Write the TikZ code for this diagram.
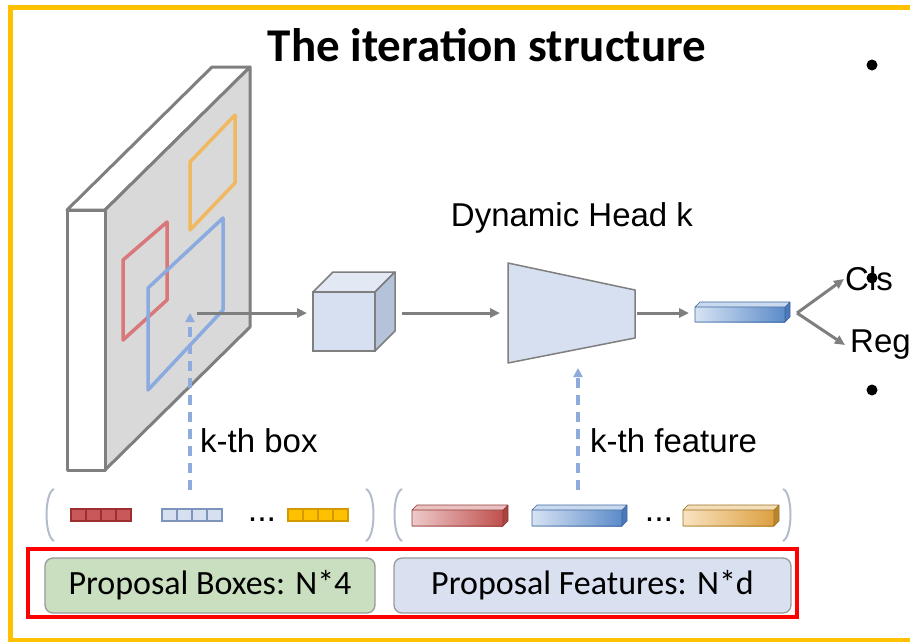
\documentclass[tikz,border=0pt]{standalone}
\usepackage{fontspec}
\setmainfont{Liberation Sans}
\newfontfamily\calib{Carlito}
\usetikzlibrary{arrows.meta,calc}

\definecolor{frameyellow}{HTML}{FFC000}
\definecolor{edgegray}{HTML}{7F7F7F}
\definecolor{slabgray}{HTML}{D9D9D9}
\definecolor{boxred}{HTML}{D9787A}
\definecolor{boxorange}{HTML}{F0B860}
\definecolor{boxblue}{HTML}{8AAAE0}
\definecolor{dashblue}{HTML}{8FAADC}
\definecolor{cubefront}{HTML}{D6E0F0}
\definecolor{cubetop}{HTML}{E2E9F5}
\definecolor{cubeside}{HTML}{B4C2DA}
\definecolor{bracketgray}{HTML}{B4BCCC}
\definecolor{greenfill}{HTML}{C9DFC0}
\definecolor{bluefill}{HTML}{D9E1F0}
% feature vector shades
\definecolor{vbluelo}{HTML}{D7E3F3}
\definecolor{vbluehi}{HTML}{5B8BC9}
\definecolor{vblueside}{HTML}{4A78B8}
\definecolor{vredlo}{HTML}{EDCACA}
\definecolor{vredhi}{HTML}{C0504D}
\definecolor{vredside}{HTML}{A84440}
\definecolor{vorglo}{HTML}{F8E3C0}
\definecolor{vorghi}{HTML}{DDA040}
\definecolor{vorgside}{HTML}{B8862B}
% box vector fills
\definecolor{cellred}{HTML}{C9585A}
\definecolor{cellredline}{HTML}{9E2F30}
\definecolor{cellblueline}{HTML}{7D95BD}
\definecolor{cellorgline}{HTML}{D39A00}

% a 3-d feature vector: front face from (#1,#3) to (#2,#4), shaded #5 -> #6, side #7
\newcommand\featbar[7]{%
  \shade[left color=#5, right color=#6] (#1,#3) rectangle (#2,#4);
  \fill[#5!60!#6!60!white] (#1,#3) -- ++(5,-5) -- ($(#2,#3)+(5,-5)$) -- (#2,#3) -- cycle;
  \fill[#7] (#2,#3) -- ++(5,-5) -- ($(#2,#4)+(5,-5)$) -- (#2,#4) -- cycle;
  \draw[#7!85!black, line width=0.6pt, line join=round] (#1,#3) rectangle (#2,#4)
     (#1,#3) -- ++(5,-5) -- ($(#2,#3)+(5,-5)$) -- ($(#2,#4)+(5,-5)$) -- (#2,#4)
     (#2,#3) -- ++(5,-5);
}
% a 4-cell box vector starting at (#1,#2)
\newcommand\cellrow[4]{%
  \draw[fill=#3, draw=#4, line width=1.2pt] (#1,#2) rectangle ++(60,12);
  \foreach \k in {1,2,3} \draw[#4, line width=1.2pt] ($(#1,#2)+(15*\k,0)$) -- ++(0,12);
}

\tikzset{
  graylink/.style={draw=edgegray, line width=3pt, -{Triangle[length=10pt,width=9pt]}},
  dashlink/.style={draw=dashblue, line width=3.2pt, dash pattern=on 10pt off 7pt,
                   -{Triangle[length=9pt,width=9pt]}},
  lbl/.style={font=\fontsize{33}{38}\selectfont, inner sep=0pt, anchor=west},
  dotsym/.style={font=\fontsize{34}{38}\selectfont, inner sep=0pt, anchor=base},
  panel/.style={rounded corners=8pt, draw=edgegray!80, line width=1.3pt,
                minimum height=55pt, inner sep=0pt,
                font=\calib\fontsize{34}{40}\selectfont},
  bracket/.style={draw=bracketgray, line width=2pt},
  slabline/.style={draw=edgegray, line width=3pt, line join=round},
  roibox/.style={line width=3.5pt, line join=round},
}

\begin{document}
\begin{tikzpicture}[x=1pt, y=-1pt]
\useasboundingbox (0,0) rectangle (910,641);
\clip (0,0) rectangle (910,641);
\fill[white] (0,0) rectangle (910,641);

% outer frame
\draw[frameyellow, line width=5pt] (930,7.5) -- (10.5,7.5) -- (10.5,640) -- (930,640);

% title
\node[font=\calib\bfseries\fontsize{47}{54}\selectfont, inner sep=0pt] (title) at (487,45) {The iteration structure};

% bullets of the slide
\foreach \yy in {65,390} \fill (872,\yy) circle (5.5pt);

% feature map slab
\coordinate (fa) at (67,210);  \coordinate (fb) at (105,210);
\coordinate (fc) at (105,470); \coordinate (fd) at (67,470);
\filldraw[fill=white, slabline]
  (fa) -- ++(145,-143) -- ($(fb)+(145,-143)$) -- (fb) -- cycle;
\filldraw[fill=slabgray, slabline]
  (fb) -- ++(145,-143) -- ($(fc)+(145,-143)$) -- (fc) -- cycle;
\filldraw[fill=white, slabline] (fa) rectangle (fc);

% boxes on the feature map
\draw[boxorange, roibox] (190,162) -- (235,115) -- (235,183) -- (190,230) -- cycle;
\draw[boxred, roibox] (123,260) -- (167,222) -- (167,300) -- (123,340) -- cycle;
\draw[boxblue, roibox] (148,288) -- (223,218) -- (223,310) -- (148,390) -- cycle;

% RoI cube
\coordinate (ca) at (313,292); \coordinate (cb) at (375,292);
\coordinate (cc) at (375,351); \coordinate (cd) at (313,351);
\filldraw[fill=cubetop, draw=edgegray, line width=1.5pt, line join=round]
  (ca) -- ++(20,-20) -- ($(cb)+(20,-20)$) -- (cb) -- cycle;
\filldraw[fill=cubeside, draw=edgegray, line width=1.5pt, line join=round]
  (cb) -- ++(20,-20) -- ($(cc)+(20,-20)$) -- (cc) -- cycle;
\filldraw[fill=cubefront, draw=edgegray, line width=1.5pt] (ca) rectangle (cc);
\coordinate (cubeW) at (307,313);
\coordinate (cubeE) at (402,313);

% dynamic head
\filldraw[fill=cubefront, draw=edgegray, line width=1.5pt, line join=round]
  (508,263) -- (635,290) -- (635,338) -- (508,363) -- cycle;
\coordinate (headW) at (500,313);
\coordinate (headE) at (637,313);
\node[font=\fontsize{33}{38}\selectfont, inner sep=0pt] (headlbl) at (572,218) {Dynamic Head k};

% output vector
\featbar{695}{785}{307}{322}{vbluelo}{vbluehi}{vblueside}
\coordinate (vecW) at (689,313);
\coordinate (vecE) at (797,313);

% links
\coordinate (roiPt) at (197,313);
\draw[graylink] (roiPt) -- (cubeW);
\draw[graylink] (cubeE) -- (headW);
\draw[graylink] (headE) -- (vecW);
\node[lbl] (cls) at (845,279) {Cls};
\node[lbl] (reg) at (850,345) {Reg};
\draw[graylink] (vecE) -- ($(cls.west)+(-1,0)$);
\draw[graylink] (vecE) -- ($(reg.west)+(-5,0)$);
\fill (872,278) circle (5.5pt);

% k-th box / k-th feature
\coordinate (boxSrc) at (190,490);
\coordinate (boxDst) at (190,313);
\draw[dashlink] (boxSrc) -- (boxDst);
\node[lbl] (kbox) at (200,441) {k-th box};
\coordinate (featSrc) at (578,490);
\coordinate (featDst) at (578,368);
\draw[dashlink] (featSrc) -- (featDst);
\node[lbl] (kfeat) at (590,441) {k-th feature};

% brackets
\draw[bracket] (54,489) .. controls (44,493) and (44,536) .. (54,541);
\draw[bracket] (366,489) .. controls (376,493) and (376,536) .. (366,541);
\draw[bracket] (402,489) .. controls (392,493) and (392,536) .. (402,541);
\draw[bracket] (783,489) .. controls (793,493) and (793,536) .. (783,541);

% proposal boxes
\cellrow{71}{509}{cellred}{cellredline}
\cellrow{162}{509}{cubefront}{cellblueline}
\cellrow{288}{509}{frameyellow}{cellorgline}
\node[dotsym] (dotsA) at (262,521) {...};

% proposal features
\featbar{412}{503}{510}{526}{vredlo}{vredhi}{vredside}
\featbar{532}{622}{510}{526}{vbluelo}{vbluehi}{vblueside}
\featbar{683}{774}{510}{526}{vorglo}{vorghi}{vorgside}
\node[dotsym] (dotsB) at (659,521) {...};

% bottom panels
\draw[red, line width=4pt] (28,549) rectangle (797,617);
\node[panel, fill=greenfill, minimum width=330pt] (pbox) at (210,585.5) {Proposal Boxes: N*4};
\node[panel, fill=bluefill, minimum width=397pt] (pfeat) at (592.5,585.5) {Proposal Features: N*d};
\end{tikzpicture}
\end{document}
